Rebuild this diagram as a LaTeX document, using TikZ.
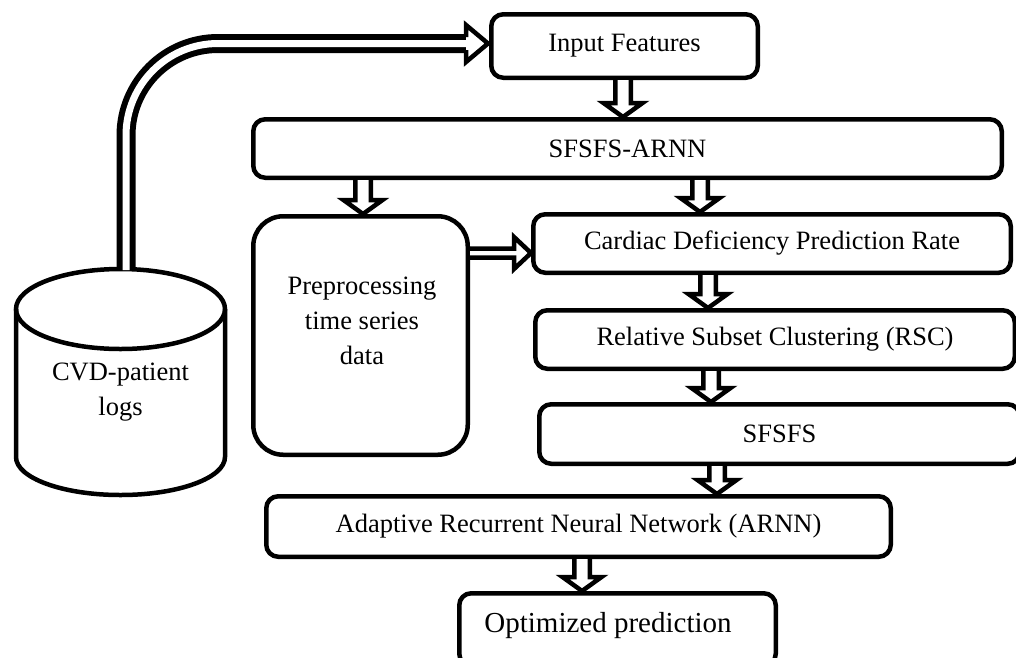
\documentclass[tikz,border=0pt]{standalone}
\usepackage{fontspec}
\setmainfont{Liberation Serif}
\usetikzlibrary{calc}
\begin{document}
\begin{tikzpicture}[x=1pt,y=-1pt,
  lw/.style={line width=4.5pt},
  box/.style={lw, draw, rounded corners=12pt, inner sep=0pt, font=\fontsize{26.5}{35}\selectfont},
  txt/.style={inner sep=0pt, align=center, font=\fontsize{26.5}{35}\selectfont},
  vblk/.style={lw, draw, fill=white, line join=miter,
    to path={let \p1=(\tikztostart), \p2=(\tikztotarget) in
      (\x1-7.75pt,\y1) -- (\x1-7.75pt,\y2+14pt) -- (\x1-19.5pt,\y2+14pt) -- (\x1,\y2)
      -- (\x1+19.5pt,\y2+14pt) -- (\x1+7.75pt,\y2+14pt) -- (\x1+7.75pt,\y1)}},
  hblk/.style={lw, draw, fill=white, line join=miter,
    to path={let \p1=(\tikztostart), \p2=(\tikztotarget) in
      (\x1,\y1+4.5pt) -- (\x2-17pt,\y1+4.5pt) -- (\x2-17pt,\y1+16pt) -- (\x2,\y1)
      -- (\x2-17pt,\y1-16pt) -- (\x2-17pt,\y1-4.5pt) -- (\x1,\y1-4.5pt)}}
]
\useasboundingbox (0,0) rectangle (1016,657);
\clip (0,0) rectangle (1016,657);

% boxes
\node[box, minimum width=266.5pt, minimum height=63.5pt] (inp) at (624.5,46) {Input Features};
\node[box, minimum width=748.5pt, minimum height=58.5pt] (sfa) at (627.5,148.5) {SFSFS-ARNN};
\node[box, rounded corners=30pt, minimum width=214.5pt, minimum height=238.5pt] (pre) at (360.5,335.5) {};
\node[txt] (pretxt) at (362,321) {Preprocessing\\time series\\data};
\node[box, minimum width=477.5pt, minimum height=58.5pt] (cdp) at (772,243.5) {Cardiac Deficiency Prediction Rate};
\node[box, minimum width=479.5pt, minimum height=58.5pt] (rsc) at (775,339.5) {Relative Subset Clustering (RSC)};
\node[box, minimum width=480.5pt, minimum height=59.5pt] (sfs) at (779.5,434) {SFSFS};
\node[box, minimum width=624.5pt, minimum height=60.5pt] (arn) at (578.5,526.5) {Adaptive Recurrent Neural Network (ARNN)};
\node[box, minimum width=316.5pt, minimum height=72.5pt] (opt) at (617.5,629.5) {};
\node[inner sep=0pt, font=\fontsize{29}{35}\selectfont] (opttxt) at (608,626) {Optimized prediction};

% cylinder
\draw[lw] (120.5,309) ellipse [x radius=104.5, y radius=40];
\draw[lw] (16,309) -- (16,457) arc[start angle=180, end angle=0, x radius=104.5, y radius=38] -- (225,309);
\node[txt] (cvd) at (120.5,392) {CVD-patient\\logs};
\coordinate (cyltop) at (126,270);

% double arrow from database to input features
\draw[line width=6pt, double=white, double distance=7pt, rounded corners=92pt]
  (cyltop) |- ($(inp.west)+(-23,-2.5)$);
\path let \p1=(inp.west) in
  [lw, draw, fill=white, line join=miter]
  (\x1-23pt,\y1+9pt) -- (\x1-23pt,\y1+21pt) -- (\x1-1pt,\y1+2.5pt)
  -- (\x1-23pt,\y1-16pt) -- (\x1-23pt,\y1-4pt);

% block arrows
\draw[vblk] (623,0 |- inp.south) to (623,0 |- sfa.north);
\draw[vblk] (363,0 |- sfa.south) to (363,0 |- pre.north);
\draw[vblk] (700,0 |- sfa.south) to (700,0 |- cdp.north);
\draw[hblk] (pre.east |- 0,253) to (cdp.west |- 0,253);
\draw[vblk] (708,0 |- cdp.south) to (708,0 |- rsc.north);
\draw[vblk] (711,0 |- rsc.south) to (711,0 |- sfs.north);
\draw[vblk] (717,0 |- sfs.south) to (717,0 |- arn.north);
\draw[vblk] (582,0 |- arn.south) to (582,0 |- opt.north);
\end{tikzpicture}
\end{document}
